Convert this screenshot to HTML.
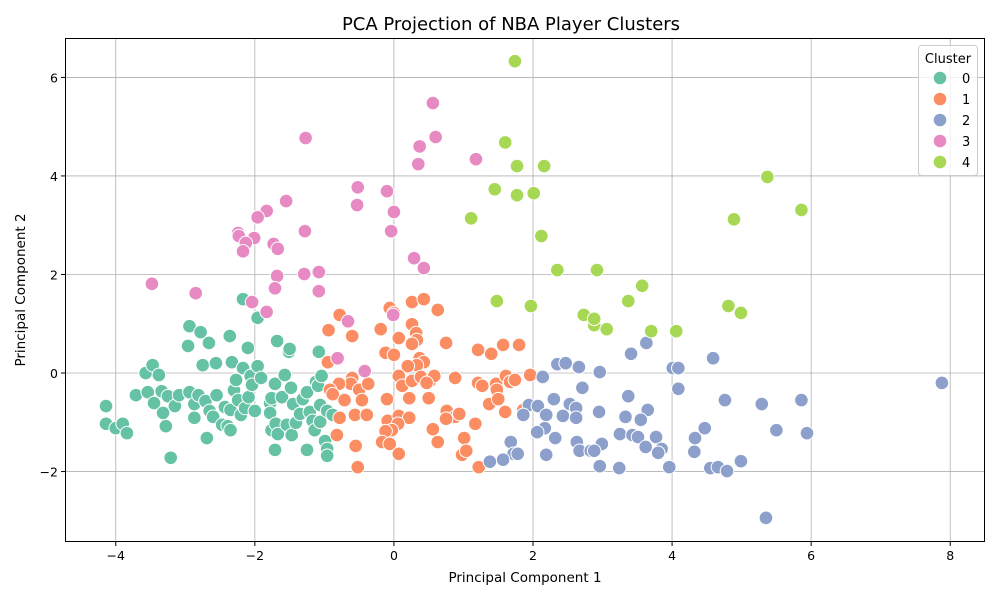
<!DOCTYPE html>
<html><head><meta charset="utf-8"><style>
body{margin:0;background:#fff;}
svg{display:block;font-family:"DejaVu Sans","Liberation Sans",sans-serif;}
</style></head><body>
<svg id="chart" width="1000" height="600">
<text x="511" y="30" text-anchor="middle" font-size="18">PCA Projection of NBA Player Clusters</text>
<g id="grid"></g>
<g id="points"></g>
<rect x="65.5" y="38.5" width="919" height="503" fill="none" stroke="#000" stroke-width="1"/>
<g id="ticks"></g>
<text x="525" y="582" text-anchor="middle" font-size="13.5">Principal Component 1</text>
<text x="25" y="290" text-anchor="middle" font-size="13.5" transform="rotate(-90 25 290)">Principal Component 2</text>
<g id="legend"></g>
</svg>
<script>
const xTicks=[-4,-2,0,2,4,6,8];
const yTicks=[-2,0,2,4,6];
const clusterColors=["#66c2a5","#fc8d62","#8da0cb","#e78ac3","#a6d854"];
const clusterLabels=["0","1","2","3","4"];
const c0x=[-4.14,-4.14,-4,-3.9,-3.84,-3.71,-3.57,-3.47,-3.38,-3.54,-3.45,-3.34,-3.32,-3.25,-3.28,-3.21,-3.15,-3.09,-2.96,-2.94,-2.94,-2.87,-2.87,-2.78,-2.75,-2.81,-2.71,-2.66,-2.65,-2.6,-2.69,-2.56,-2.55,-2.47,-2.43,-2.39,-2.36,-2.33,-2.3,-2.35,-2.35,-2.27,-2.24,-2.2,-2.17,-2.17,-2.14,-2.1,-2.09,-2.06,-2.04,-2.0,-1.96,-1.96,-1.91,-1.78,-1.78,-1.76,-1.71,-1.76,-1.71,-1.68,-1.7,-1.67,-1.61,-1.57,-1.54,-1.51,-1.5,-1.48,-1.47,-1.45,-1.41,-1.35,-1.31,-1.25,-1.25,-1.21,-1.17,-1.14,-1.12,-1.09,-1.08,-1.06,-1.04,-0.99,-0.96,-0.96,-1.06,-0.96,-0.88];
const c0y=[-0.67,-1.03,-1.12,-1.03,-1.22,-0.45,0,0.16,-0.04,-0.39,-0.61,-0.37,-0.81,-0.47,-1.08,-1.72,-0.67,-0.45,0.55,0.95,-0.39,-0.63,-0.91,0.83,0.16,-0.45,-0.57,0.61,-0.77,-0.89,-1.32,0.2,-0.45,-1.05,-0.69,-1.08,0.75,0.22,-0.35,-0.75,-1.16,-0.14,-0.55,-0.85,1.5,0.1,-0.71,0.51,-0.49,-0.06,-0.24,-0.77,1.12,0.14,-0.1,-0.61,-0.81,-1.16,-1.56,-0.51,-0.22,0.65,-1.03,-1.24,-0.49,-0.04,-1.05,0.43,0.49,-0.3,-1.26,-0.63,-1.01,-0.83,-0.53,-1.56,-0.39,-0.79,-0.97,-1.16,-0.18,-0.26,0.43,-0.65,-0.06,-1.38,-1.54,-1.68,-0.99,-0.77,-0.85];
const c1x=[0.26,0.43,0.63,-0.78,-0.06,0,-0.94,-0.19,0.26,0.32,0.33,0.07,-0.6,-0.12,0,0.26,0.75,1.8,1.57,1.4,1.21,0.37,0.43,0.33,0.2,-0.95,-0.6,-0.62,-0.79,-0.5,-0.37,0.07,0.12,0.26,0.39,0.52,0.58,0.47,0.88,1.21,1.27,1.47,1.48,1.61,1.67,1.74,1.96,-0.92,-0.88,-0.71,-0.46,-0.1,0.22,0.5,0.76,0.88,0.94,1.17,1.37,1.5,1.6,1.86,-0.56,-0.39,-0.78,-0.09,0.07,0.22,0.06,-0.03,-0.12,-0.17,-0.82,-0.55,-0.52,-0.06,0.07,0.56,0.63,1.01,0.98,1.04,1.22,0.75];
const c1y=[1.44,1.5,1.28,1.18,1.32,1.22,0.87,0.89,0.99,0.81,0.67,0.71,0.75,0.41,0.37,0.59,0.61,0.57,0.57,0.39,0.47,0.3,0.22,0.16,0.14,0.22,-0.1,-0.22,-0.22,-0.34,-0.22,-0.06,-0.26,-0.16,-0.08,-0.16,-0.06,-0.2,-0.1,-0.2,-0.26,-0.22,-0.34,-0.06,-0.18,-0.14,-0.04,-0.34,-0.43,-0.55,-0.55,-0.53,-0.51,-0.51,-0.77,-0.89,-0.83,-1.03,-0.63,-0.53,-0.79,-0.75,-0.85,-0.85,-0.91,-0.97,-0.87,-0.91,-1.03,-1.16,-1.18,-1.4,-1.26,-1.48,-1.91,-1.44,-1.64,-1.14,-1.4,-1.32,-1.66,-1.58,-1.91,-0.93];
const c2x=[2.35,2.47,2.66,2.96,2.14,3.41,3.63,4.01,4.09,4.59,2.71,4.09,7.88,2.3,1.94,2.07,2.53,2.62,3.37,3.65,4.76,5.29,5.86,1.86,2.19,2.43,2.62,2.95,3.33,3.55,2.17,2.06,4.47,5.5,5.94,3.25,3.43,3.51,3.77,4.33,2.32,2.63,1.68,2.99,3.62,3.85,3.8,4.32,1.72,1.78,2.19,2.67,2.83,2.88,1.57,1.38,2.96,3.24,3.96,4.55,4.66,4.79,4.99,5.35];
const c2y=[0.18,0.2,0.12,0.02,-0.08,0.39,0.61,0.1,0.1,0.3,-0.3,-0.32,-0.2,-0.53,-0.65,-0.67,-0.63,-0.71,-0.47,-0.75,-0.55,-0.63,-0.55,-0.85,-0.85,-0.87,-0.91,-0.79,-0.89,-0.95,-1.12,-1.2,-1.12,-1.16,-1.22,-1.24,-1.26,-1.3,-1.3,-1.32,-1.32,-1.4,-1.4,-1.44,-1.5,-1.54,-1.62,-1.6,-1.64,-1.64,-1.66,-1.58,-1.58,-1.58,-1.76,-1.8,-1.89,-1.93,-1.91,-1.93,-1.91,-1.99,-1.79,-2.94];
const c3x=[0.56,-1.27,0.6,0.37,1.18,0.35,-0.52,-0.1,-1.55,-0.53,-1.83,0,-1.96,-1.28,-0.04,-2.24,-2.23,-2.01,-2.13,-1.73,-1.67,-2.17,0.29,0.43,-1.29,-1.68,-1.08,-3.48,-1.71,-2.85,-1.08,-2.04,-1.83,-0.01,-0.66,-0.81,-0.42];
const c3y=[5.48,4.77,4.79,4.6,4.34,4.24,3.77,3.69,3.49,3.41,3.29,3.27,3.16,2.88,2.88,2.84,2.78,2.74,2.64,2.62,2.52,2.47,2.33,2.13,2.01,1.97,2.05,1.81,1.72,1.62,1.66,1.44,1.24,1.18,1.05,0.3,0.04];
const c4x=[1.74,1.6,1.77,2.16,1.45,2.01,1.77,1.11,2.12,2.35,2.92,5.37,5.86,4.89,3.37,3.57,1.48,1.97,2.73,2.88,3.06,2.88,3.7,4.06,4.81,4.99];
const c4y=[6.33,4.68,4.2,4.2,3.73,3.65,3.61,3.14,2.78,2.09,2.09,3.98,3.31,3.12,1.46,1.77,1.46,1.36,1.18,0.97,0.89,1.1,0.85,0.85,1.36,1.22];
const seriesX=[c0x,c1x,c2x,c3x,c4x];
const seriesY=[c0y,c1y,c2y,c3y,c4y];

const NS="http://www.w3.org/2000/svg";
const L=65,R=985,T=38,B=542;
const xMin=-4.73,xMax=8.5,yMin=-3.43,yMax=6.8;
function sx(v){return L+(v-xMin)/(xMax-xMin)*(R-L);}
function sy(v){return B-(v-yMin)/(yMax-yMin)*(B-T);}
function mk(tag,attrs){const e=document.createElementNS(NS,tag);for(const k in attrs)e.setAttribute(k,attrs[k]);return e;}
const grid=document.getElementById('grid'),ticks=document.getElementById('ticks');
xTicks.forEach(t=>{
  const x=sx(t);
  const g=mk('line',{x1:x,x2:x,y1:T,y2:B,stroke:'#b0b0b0','stroke-width':0.8});
  
  
  grid.appendChild(g);
  const tk=mk('line',{x1:x,x2:x,y1:B,y2:B+4,stroke:'#000'});
  
  
  ticks.appendChild(tk);
  const tx=mk('text',{x:x,y:B+18,'text-anchor':'middle','font-size':12.5});
  
  
  tx.textContent=t<0?'\u2212'+(-t):t;ticks.appendChild(tx);
});
yTicks.forEach(t=>{
  const y=sy(t);
  const g=mk('line',{x1:L,x2:R,y1:y,y2:y,stroke:'#b0b0b0','stroke-width':0.8});
  
  
  grid.appendChild(g);
  const tk=mk('line',{x1:L-4,x2:L,y1:y,y2:y,stroke:'#000'});
  
  
  ticks.appendChild(tk);
  const tx=mk('text',{x:L-7,y:y+5,'text-anchor':'end','font-size':12.5});
  
  
  tx.textContent=t<0?'\u2212'+(-t):t;ticks.appendChild(tx);
});
const pts=document.getElementById('points');
seriesX.forEach((xs,ci)=>{
  xs.forEach((xv,i)=>{
    const c=mk('circle',{cx:sx(xv),cy:sy(seriesY[ci][i]),r:6.8,fill:clusterColors[ci],stroke:'#fff','stroke-width':1});
    
    
    pts.appendChild(c);
  });
});
const lg=document.getElementById('legend');
const box=mk('rect',{x:918.5,y:45.5,width:59,height:130,rx:3,fill:'#fff','fill-opacity':0.8,stroke:'#ccc'});


lg.appendChild(box);
const lt=mk('text',{x:948,y:63,'text-anchor':'middle','font-size':13});


lt.textContent='Cluster';lg.appendChild(lt);
clusterLabels.forEach((lab,i)=>{
  const y=78+i*21;
  const c=mk('circle',{cx:940,cy:y,r:6.8,fill:clusterColors[i],stroke:'#fff','stroke-width':1});
  
  
  lg.appendChild(c);
  const t=mk('text',{x:962,y:y+5,'font-size':13});
  
  
  t.textContent=lab;lg.appendChild(t);
});
</script>
</body></html>
